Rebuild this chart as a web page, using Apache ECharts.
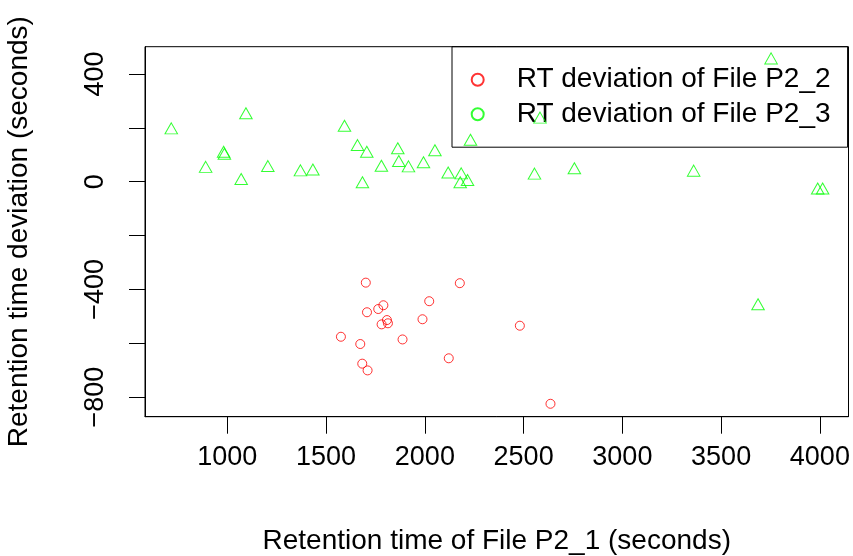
<!DOCTYPE html>
<html>
<head>
<meta charset="utf-8">
<script src="https://cdn.jsdelivr.net/npm/echarts@6/dist/echarts.min.js"></script>
<style>html,body{margin:0;padding:0;background:#fff}#c{width:853px;height:556px}</style>
</head>
<body>
<div id="c"></div>
<script>
// Series P2_2 (red circles): [x, y]
const p22X = [1701, 2177, 2022, 1790, 1764, 1707, 1988, 1808, 1813, 1781, 2481, 1575, 1887, 1673, 2121, 1683, 1710, 2636];
const p22Y = [-375, -377, -444, -459, -473, -485, -511, -514, -526, -530, -535, -576, -586, -603, -656, -676, -701, -825];
// Series P2_3 (green triangles)
const p23X = [716, 890, 981, 985, 1070, 1094, 1205, 1370, 1433, 1593, 1659, 1684, 1706, 1780, 1863, 1868, 1917, 1993, 2051, 2118, 2179, 2184, 2216, 2231, 2555, 2583, 2757, 3361, 3687, 3753, 3989, 4014];
const p23Y = [198, 55, 111, 104, 10, 254, 58, 42, 45, 208, 136, -2, 111, 59, 124, 77, 57, 72, 117, 34, -2, 31, 6, 156, 30, 238, 50, 41, -455, 458, -25, -25];
const xTicks = [1000, 1500, 2000, 2500, 3000, 3500, 4000];
const yTicks = [-800, -600, -400, -200, 0, 200, 400];
const yLabels = [-800, -400, 0, 400];
const names = ['RT deviation of File P2_2', 'RT deviation of File P2_3'];

const font = "'Liberation Sans', Arial, Helvetica, sans-serif";
const zip = (a, b) => a.map((v, i) => [v, b[i]]);

const chart = echarts.init(document.getElementById('c'), null, {renderer: 'canvas'});
chart.setOption({
  animation: false,
  backgroundColor: '#fff',
  grid: {left: 145, right: 4.5, top: 46.7, bottom: 139.3, show: true, borderColor: '#000', borderWidth: 1,
    backgroundColor: 'transparent', containLabel: false, outerBoundsMode: 'none'},
  legend: {
    orient: 'vertical', left: 452, top: 46.7, z: 1,
    padding: [17, 17, 17, 18.7], itemGap: 2.5, itemWidth: 12, itemHeight: 12,
    borderColor: '#000', borderWidth: 1, backgroundColor: 'transparent',
    textStyle: {fontFamily: font, fontSize: 28, color: '#000', padding: [0, 0, 0, 28], lineHeight: 32},
    data: [{name: names[0], icon: 'circle'}, {name: names[1], icon: 'circle'}]
  },
  xAxis: {
    type: 'value', min: 583, max: 4145,
    name: 'Retention time of File P2_1 (seconds)', nameLocation: 'middle', nameGap: 111,
    nameTextStyle: {fontFamily: font, fontSize: 28, color: '#000'},
    axisLine: {show: true, onZero: false, lineStyle: {color: '#000', width: 1}},
    splitLine: {show: false},
    axisTick: {show: true, inside: false, length: 17, customValues: xTicks, lineStyle: {color: '#000', width: 1}},
    axisLabel: {fontFamily: font, fontSize: 27, color: '#000', margin: 27, customValues: xTicks,
      formatter: v => String(v)}
  },
  yAxis: {
    type: 'value', min: -873, max: 501.5,
    name: 'Retention time deviation (seconds)', nameLocation: 'middle', nameGap: 112,
    nameTextStyle: {fontFamily: font, fontSize: 28, color: '#000'},
    axisLine: {show: true, onZero: false, lineStyle: {color: '#000', width: 1}},
    splitLine: {show: false},
    axisTick: {show: true, inside: false, length: 16, customValues: yTicks, lineStyle: {color: '#000', width: 1}},
    axisLabel: {fontFamily: font, fontSize: 27, color: '#000', margin: 36, rotate: 90, customValues: yLabels,
      formatter: v => (v < 0 ? '\u2212' + Math.abs(v) : String(v))}
  },
  series: [
    {name: names[0], type: 'scatter', z: 3, symbol: 'circle', symbolSize: 9,
      itemStyle: {color: 'transparent', borderColor: '#ff0000', borderWidth: 1},
      data: zip(p22X, p22Y)},
    {name: names[1], type: 'scatter', z: 3, symbol: 'triangle', symbolSize: [12.5, 11],
      itemStyle: {color: 'transparent', borderColor: '#00ff00', borderWidth: 1},
      data: zip(p23X, p23Y)}
  ]
});
</script>
</body>
</html>
